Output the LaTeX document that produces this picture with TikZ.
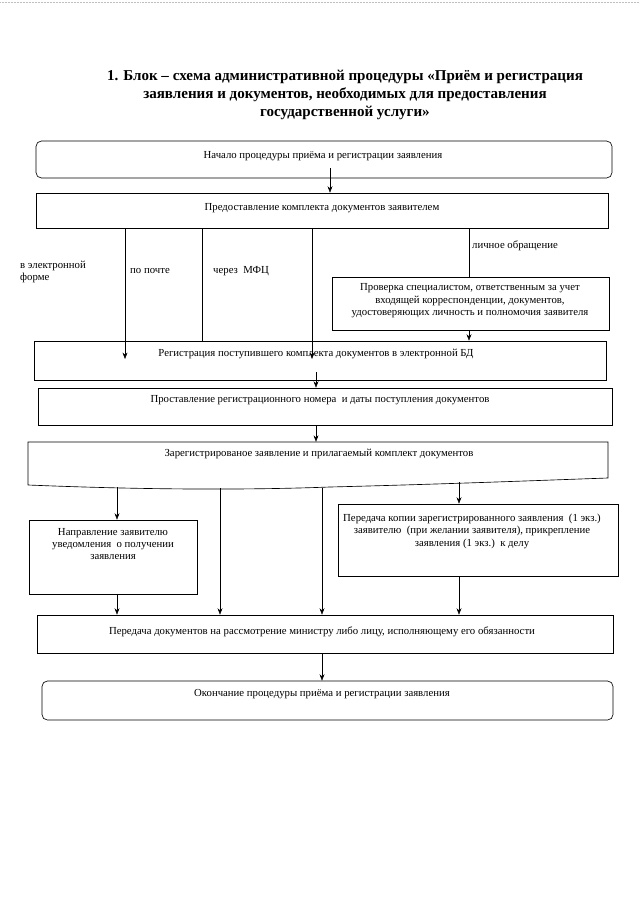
\documentclass[tikz,border=0pt]{standalone}
\usepackage{fontspec}
\setmainfont{Liberation Serif}
\usetikzlibrary{fit,arrows.meta}
\tikzset{
  box/.style={draw, line width=0.6pt, inner sep=0pt},
  rbox/.style={box, rounded corners=5pt},
  hid/.style={inner sep=0pt},
  txt/.style={font=\fontsize{10}{11.6}\selectfont, align=center, inner sep=0pt},
  lbl/.style={font=\fontsize{10}{11.6}\selectfont, align=left, inner sep=0pt, anchor=west},
  arr/.style={-{Stealth[length=6pt,width=4.6pt]}, line width=0.5pt},
  ln/.style={line width=0.5pt},
}
\begin{document}
\begin{tikzpicture}[x=0.93pt,y=-0.93pt]
\useasboundingbox (0,0) rectangle (640,905);
\draw[gray!50, densely dotted] (0,2) -- (640,2);

\node[font=\bfseries\fontsize{14}{16.8}\selectfont, align=center, inner sep=0pt] (title) at (345,95)
  {1. Блок – схема административной процедуры «Приём и регистрация\\
   заявления и документов, необходимых для предоставления\\
   государственной услуги»};

% boxes
\node[rbox, fit={(36,141)(612,178)}] (b1) {};
\node[txt] (t1) at (323,156) {Начало процедуры приёма и регистрации заявления};

\node[box, fit={(36,193)(608,228)}] (b2) {};
\node[txt] (t2) at (322,208) {Предоставление комплекта документов заявителем};

\node[box, fit={(332,277)(609,330)}] (b4) {};
\node[txt] (t4) at (470,301) {Проверка специалистом, ответственным за учет\\входящей корреспонденции, документов,\\удостоверяющих личность и полномочия заявителя};

\node[box, fit={(34,341)(606,380)}] (b3) {};
\node[txt] (t3) at (316,354) {Регистрация поступившего комплекта документов в электронной БД};

\node[box, fit={(38,388)(612,425)}] (b5) {};
\node[txt] (t5) at (320,400) {Проставление регистрационного номера\ \ и даты поступления документов};

\node[hid, fit={(28,442)(608,487)}] (b6) {};
\draw[line width=0.6pt] (28,485) -- (28,442) -- (608,442) -- (608,478)
  .. controls (550,480) and (450,484) .. (330,487)
  .. controls (250,490) and (150,490) .. (28,485);
\node[txt] (t6) at (319,454) {Зарегистрированое заявление и прилагаемый комплект документов};

\node[box, fit={(29,520)(197,594)}] (b7) {};
\node[txt] (t7) at (113,544) {Направление заявителю\\уведомления\ \ о получении\\заявления};

\node[box, fit={(338,504)(618,576)}] (b8) {};
\node[txt] (t8) at (472,531) {Передача копии зарегистрированного заявления\ \ (1 экз.)\\заявителю\ \ (при желании заявителя), прикрепление\\заявления (1 экз.)\ \ к делу};

\node[box, fit={(37,615)(613,653)}] (b9) {};
\node[txt] (t9) at (322,632) {Передача документов на рассмотрение министру либо лицу, исполняющему его обязанности};

\node[rbox, fit={(42,681)(613,720)}] (b10) {};
\node[txt] (t10) at (322,694) {Окончание процедуры приёма и регистрации заявления};

% labels
\node[lbl] (l1) at (20,272) {в электронной\\форме};
\node[lbl] (l2) at (130,271) {по почте};
\node[lbl] (l3) at (213,271) {через\ \ МФЦ};
\node[lbl] (l4) at (472,246) {личное обращение};

% x positions
\coordinate (xa) at (330,0);
\coordinate (xb) at (125,0);
\coordinate (xc) at (202,0);
\coordinate (xd) at (312,0);
\coordinate (xe) at (469,0);
\coordinate (xf) at (316,0);
\coordinate (xg) at (117,0);
\coordinate (xh) at (220,0);
\coordinate (xi) at (322,0);
\coordinate (xj) at (459,0);
\coordinate (ya) at (0,168);
\coordinate (yb) at (0,359);
\coordinate (yc) at (0,372);
\coordinate (yd) at (0,488);

% connectors
\draw[arr] (ya -| xa) -- (b2.north -| xa);
\draw[arr] (b2.south -| xb) -- (yb -| xb);
\draw[ln]  (b2.south -| xc) -- (b3.north -| xc);
\draw[arr] (b2.south -| xd) -- (yb -| xd);
\draw[ln]  (b2.south -| xe) -- (b4.north -| xe);
\draw[arr] (b4.south -| xe) -- (b3.north -| xe);
\draw[arr] (yc -| xf) -- (b5.north -| xf);
\draw[arr] (b5.south -| xf) -- (b6.north -| xf);
\draw[arr] (0,487 -| xg) -- (b7.north -| xg);
\draw[arr] (b7.south -| xg) -- (b9.north -| xg);
\draw[arr] (yd -| xh) -- (b9.north -| xh);
\draw[arr] (yd -| xi) -- (b9.north -| xi);
\draw[arr] (0,482 -| xj) -- (b8.north -| xj);
\draw[arr] (b8.south -| xj) -- (b9.north -| xj);
\draw[arr] (b9.south -| xi) -- (b10.north -| xi);
\end{tikzpicture}
\end{document}
